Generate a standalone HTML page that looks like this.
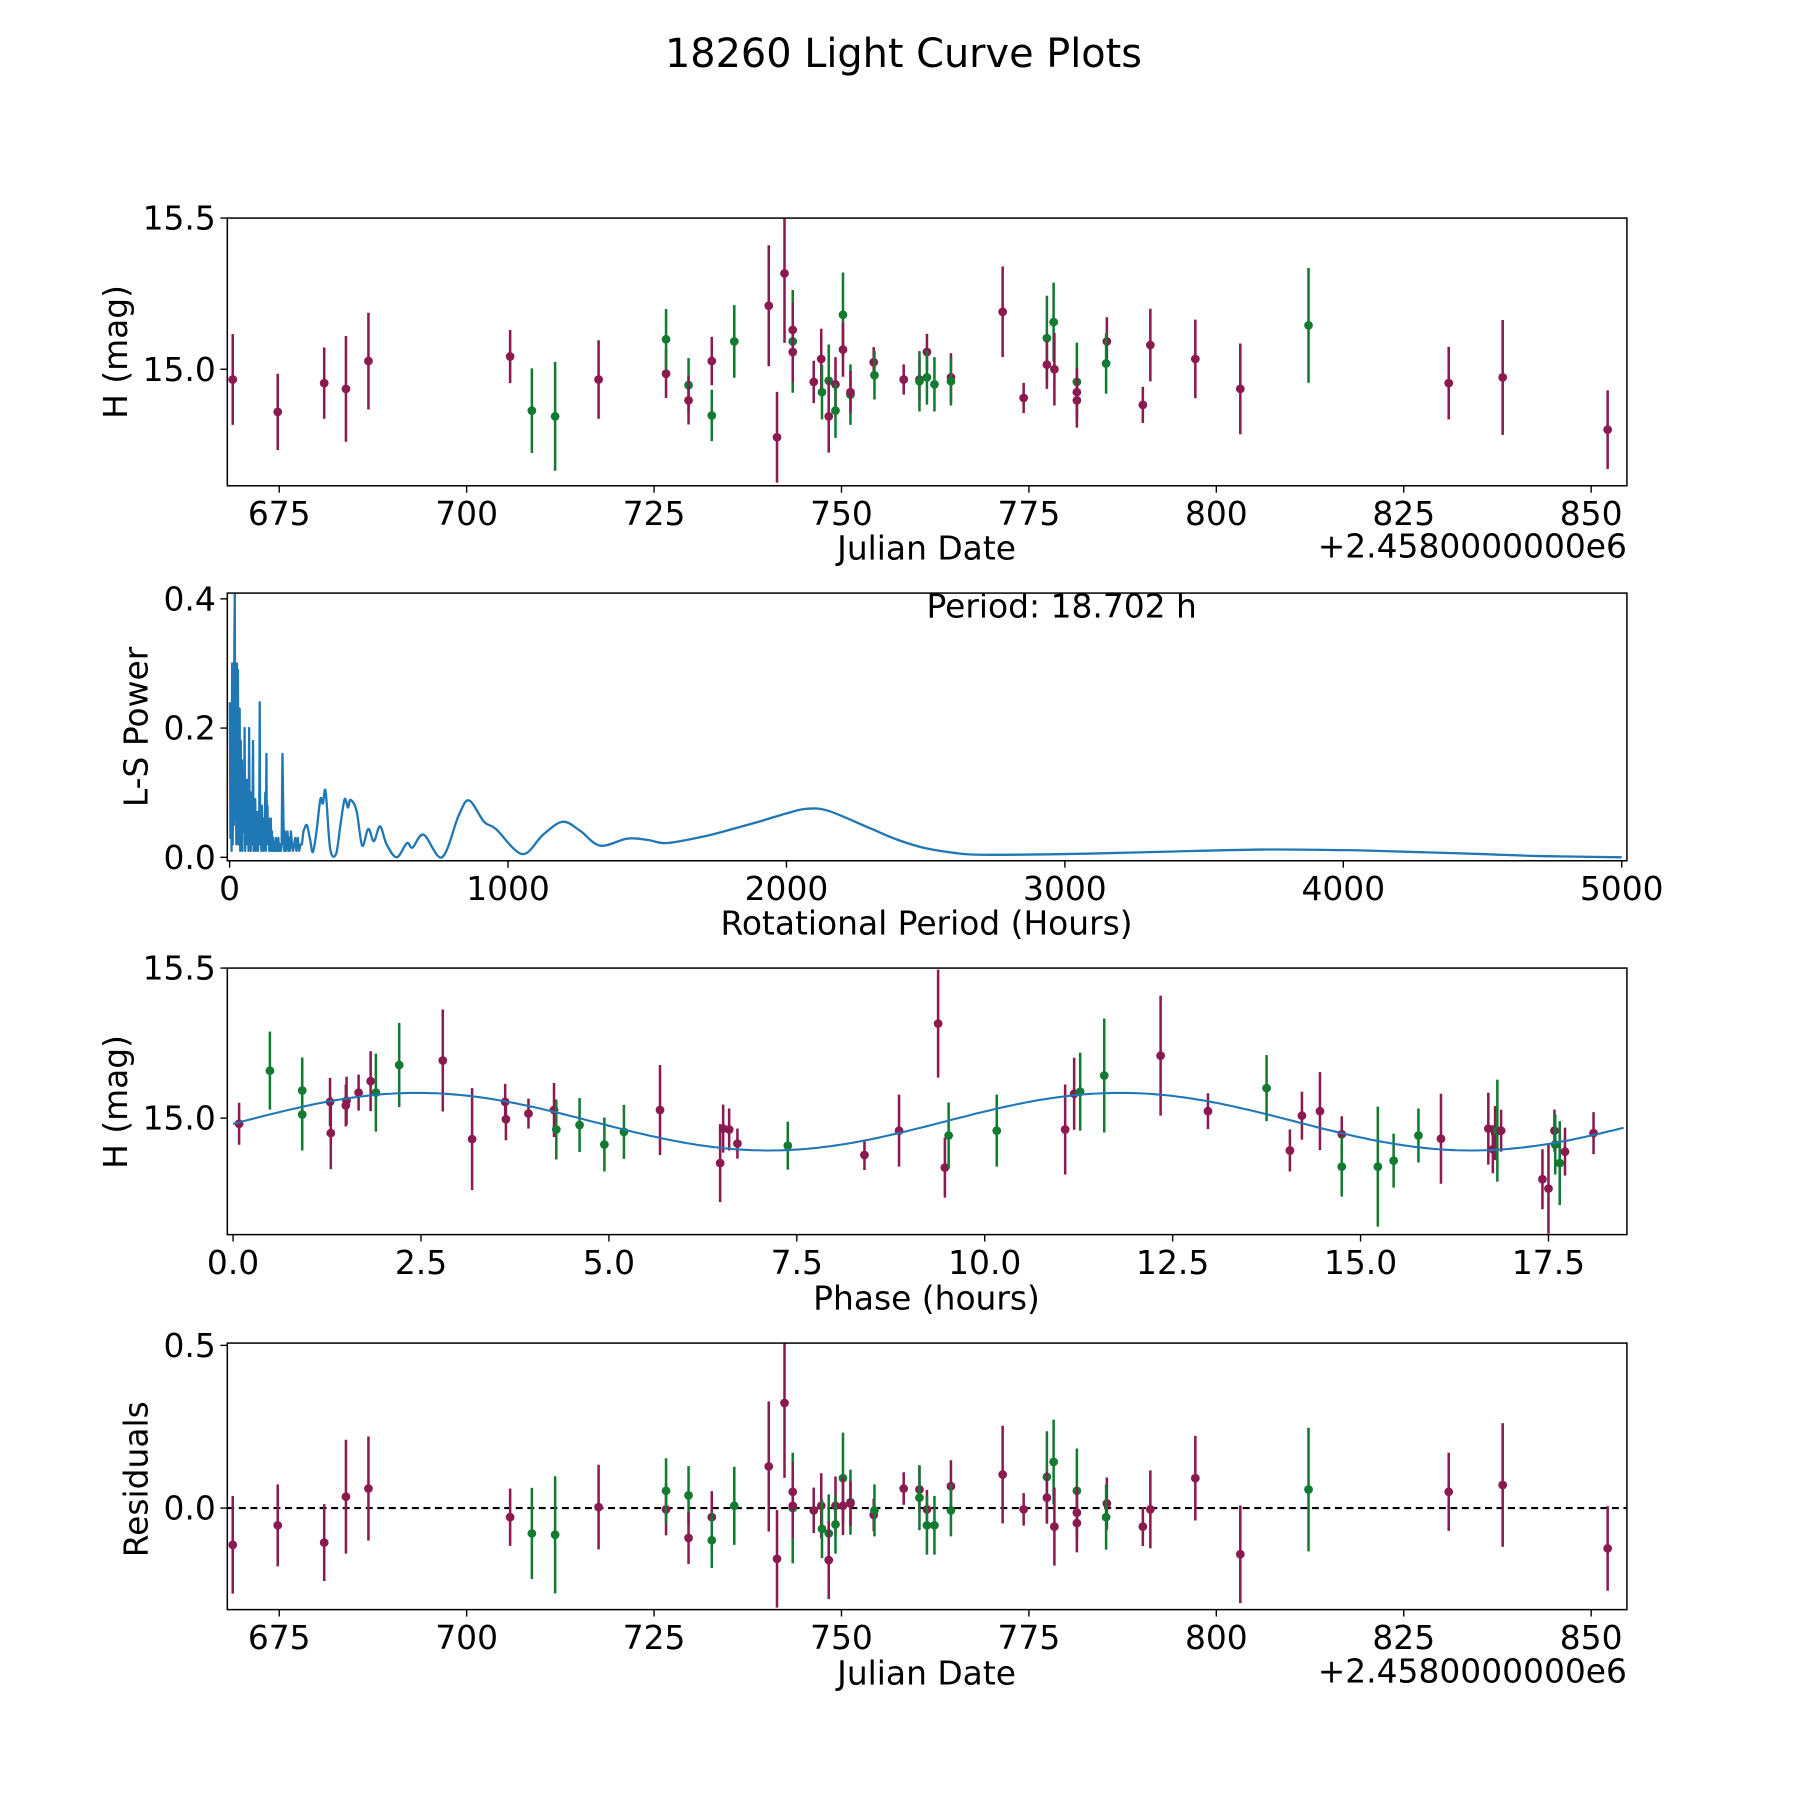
<!DOCTYPE html>
<html><head><meta charset="utf-8"><style>
html,body{margin:0;padding:0;background:#fff;}
svg{display:block;font-family:"DejaVu Sans","Liberation Sans",sans-serif;}
</style></head><body>
<svg id="fig" width="1800" height="1800" viewBox="0 0 1560 1560" xmlns="http://www.w3.org/2000/svg">
<rect width="1560" height="1560" fill="#fff"/>
<text x="783" y="58" font-size="34.5" text-anchor="middle">18260 Light Curve Plots</text>
</svg>
<script>
// ---------- Panel 1: light curve ----------
const lcDates=[668.8,674.8,681.0,683.9,686.9,705.8,708.7,711.8,717.6,726.6,726.6,729.6,729.6,732.7,732.7,735.7,740.3,741.4,742.4,743.5,743.5,743.5,746.3,747.3,747.4,748.3,748.3,749.2,749.2,750.2,750.2,751.2,751.2,754.3,754.4,758.3,760.4,760.4,761.4,761.4,762.4,764.6,764.6,771.5,774.3,777.4,777.4,778.3,778.4,781.4,781.4,781.4,785.4,785.3,790.2,791.2,797.2,803.2,812.3,831.0,838.2,852.2];
const lcMags=[14.966,14.859,14.954,14.935,15.027,15.042,14.863,14.844,14.966,14.985,15.099,14.947,14.897,15.027,14.847,15.092,15.21,14.775,15.317,15.092,15.13,15.057,14.958,15.034,14.924,14.962,14.844,14.95,14.863,15.18,15.065,14.916,14.924,15.023,14.98,14.966,14.966,14.96,15.057,14.973,14.95,14.973,14.96,15.19,14.905,15.103,15.015,15.156,15.0,14.958,14.924,14.897,15.092,15.019,14.882,15.08,15.034,14.935,15.145,14.954,14.973,14.80];
const lcErrs=[0.15,0.126,0.118,0.175,0.16,0.088,0.14,0.18,0.13,0.08,0.1,0.09,0.08,0.08,0.085,0.12,0.2,0.15,0.23,0.17,0.09,0.1,0.07,0.1,0.09,0.12,0.12,0.09,0.09,0.14,0.09,0.1,0.07,0.05,0.08,0.05,0.07,0.1,0.06,0.09,0.09,0.08,0.08,0.15,0.05,0.14,0.08,0.13,0.12,0.13,0.08,0.09,0.08,0.1,0.06,0.12,0.13,0.15,0.19,0.12,0.19,0.13];
const lcBands=['m','m','m','m','m','m','g','g','m','m','g','g','m','m','g','g','m','m','m','g','m','m','m','m','g','g','m','m','g','g','m','g','m','m','g','m','m','g','m','g','g','m','g','m','m','g','m','g','m','g','m','m','m','g','m','m','m','m','g','m','m','m'];
// ---------- Panel 2: periodogram ----------
// noisy short-period region
const lsNoisePeriods=[1,3,5,7,9,11,13,15,17,18.7,20,22,24,26,28,30,32,34,36,38,40,42,44,46,48,50,52,54,56,58,60,62,64,66,68,70,72,74,76,78,80,82,84,86,88,90,92,94,96,98,100,102,104,106,108,110,112,114,116,118,120,122,124,126,128,130,132,134,136,138,140,142,144,146,148,150,152,154,156,158,160,162,164,166,168,170,172,175,178,181,184,187,190,193,196,199,202,205,208,211,214,217,220,224,228,232,236,240,245,250,255,260,265];
const lsNoisePower=[0.24,0.03,0.22,0.01,0.3,0.02,0.2,0.05,0.33,0.41,0.06,0.25,0.02,0.3,0.04,0.29,0.02,0.12,0.23,0.01,0.18,0.03,0.15,0.01,0.12,0.04,0.09,0.2,0.01,0.11,0.03,0.12,0.02,0.06,0.01,0.2,0.03,0.08,0.01,0.1,0.02,0.07,0.18,0.01,0.08,0.03,0.09,0.01,0.06,0.02,0.07,0.01,0.04,0.03,0.24,0.02,0.06,0.01,0.08,0.02,0.05,0.01,0.06,0.02,0.1,0.01,0.16,0.02,0.08,0.03,0.06,0.01,0.05,0.02,0.06,0.01,0.04,0.01,0.03,0.02,0.01,0.02,0.01,0.03,0.01,0.02,0.01,0.03,0.01,0.02,0.01,0.02,0.16,0.06,0.01,0.04,0.01,0.02,0.04,0.01,0.03,0.01,0.04,0.02,0.01,0.02,0.03,0.01,0.03,0.01,0.02,0.02,0.04];
// smooth long-period region
const lsPeriods=[265,277,288,299,312,326,335,345,361,382,398,413,425,434,456,476,498,518,540,564,600,637,657,697,763,823,860,914,956,1051,1126,1196,1259,1331,1428,1500,1570,1700,1800,1900,2000,2070,2150,2300,2400,2500,2600,2700,3000,3300,3700,4000,4200,4500,4700,5000];
const lsPower=[0.04,0.05,0.03,0.008,0.04,0.09,0.083,0.102,0.014,0.005,0.05,0.09,0.077,0.089,0.072,0.018,0.044,0.025,0.048,0.02,0.0,0.022,0.015,0.035,0.0,0.065,0.088,0.055,0.044,0.005,0.035,0.055,0.041,0.018,0.029,0.027,0.022,0.032,0.043,0.055,0.068,0.075,0.072,0.045,0.027,0.014,0.007,0.004,0.005,0.008,0.012,0.011,0.009,0.005,0.002,0.0];
// ---------- Panel 3: phased light curve ----------
const phTimes=[0.08,0.49,0.92,0.92,1.29,1.30,1.50,1.51,1.67,1.83,1.90,2.21,2.79,3.18,3.62,3.63,3.93,4.27,4.30,4.61,4.94,5.20,5.68,6.48,6.52,6.60,6.71,7.38,8.40,8.86,9.47,9.38,9.52,10.16,11.07,11.19,11.27,11.59,12.34,12.97,13.75,14.06,14.22,14.46,14.75,14.75,15.23,15.44,15.77,16.07,16.70,16.76,16.79,16.82,16.87,17.42,17.50,17.58,17.59,17.65,17.72,18.10];
const phMags=[14.981,15.158,15.092,15.012,15.054,14.95,15.042,15.058,15.085,15.123,15.085,15.177,15.192,14.93,15.054,14.996,15.015,15.027,14.962,14.977,14.912,14.954,15.027,14.85,14.965,14.962,14.915,14.908,14.877,14.958,14.835,15.315,14.942,14.958,14.962,15.081,15.088,15.142,15.208,15.023,15.1,14.892,15.008,15.023,14.946,14.838,14.838,14.858,14.942,14.931,14.965,14.896,14.95,14.958,14.958,14.796,14.765,14.958,14.912,14.85,14.888,14.95];
const phErrs=[0.07,0.13,0.11,0.12,0.08,0.12,0.07,0.08,0.06,0.1,0.13,0.14,0.17,0.17,0.06,0.07,0.05,0.09,0.1,0.09,0.09,0.09,0.15,0.13,0.08,0.07,0.05,0.08,0.05,0.12,0.1,0.18,0.11,0.12,0.15,0.12,0.13,0.19,0.2,0.06,0.11,0.07,0.08,0.13,0.06,0.1,0.2,0.09,0.09,0.15,0.12,0.08,0.09,0.17,0.07,0.1,0.15,0.07,0.1,0.14,0.08,0.07];
const phBands=['m','g','g','g','m','m','m','m','m','m','g','g','m','m','m','m','m','m','g','g','g','g','m','m','m','m','m','g','m','m','m','m','g','g','m','m','g','g','m','m','g','m','m','m','m','g','g','g','g','m','m','m','m','g','m','m','m','m','g','g','m','m'];
const fitMean=[14.988], fitAmp=[0.096], fitPeriod=[9.351], fitPhase0=[2.45];
// ---------- Panel 4: residuals ----------
const resDates=lcDates.slice();
const resVals=[-0.113,-0.053,-0.106,0.035,0.06,-0.028,-0.078,-0.082,0.003,-0.004,0.053,0.039,-0.092,-0.028,-0.099,0.007,0.128,-0.156,0.323,0.0,0.05,0.007,-0.007,0.007,-0.064,-0.078,-0.16,0.007,-0.05,0.092,0.007,0.018,0.014,-0.021,-0.007,0.06,0.057,0.032,-0.004,-0.053,-0.053,0.067,-0.007,0.103,-0.004,0.096,0.032,0.142,-0.057,0.053,-0.014,-0.046,0.014,-0.028,-0.057,-0.004,0.092,-0.142,0.057,0.05,0.071,-0.124];
const resErrs=lcErrs.slice();
const resBands=lcBands.slice();
const jdTicks=[675,700,725,750,775,800,825,850];
const lsXTicks=[0,1000,2000,3000,4000,5000];
const lsYTicks=[0.0,0.2,0.4];
const phXTicks=[0.0,2.5,5.0,7.5,10.0,12.5,15.0,17.5];
const magTicks=[15.0,15.5];
const resTicks=[0.0,0.5];

const NS='http://www.w3.org/2000/svg';
const svg=document.getElementById('fig');
const COL={m:'#8b1a50',g:'#137a32'};
const FS=28.5;
function el(tag,attrs,parent){const e=document.createElementNS(NS,tag);for(const k in attrs)e.setAttribute(k,attrs[k]);(parent||svg).appendChild(e);return e;}
function lin(d0,d1,p0,p1){return v=>p0+(v-d0)*(p1-p0)/(d1-d0);}
function axes(name,L,T,R,B,sx,sy,xt,yt,xfmt,yfmt){
  const g=el('g',{});
  
  
  xt.forEach(v=>{const x=sx(v);
    el('line',{x1:x,x2:x,y1:B,y2:B+6,stroke:'#000','stroke-width':1.2},g);
    const lb=el('text',{x:x,y:B+34,'font-size':FS,'text-anchor':'middle'},g);lb.textContent=xfmt(v);
    
    });
  yt.forEach(v=>{const y=sy(v);
    el('line',{x1:L-6,x2:L,y1:y,y2:y,stroke:'#000','stroke-width':1.2},g);
    const lb=el('text',{x:L-10,y:y+10,'font-size':FS,'text-anchor':'end'},g);lb.textContent=yfmt(v);
    
    });
  return g;
}
function frame(L,T,R,B){el('rect',{x:L,y:T,width:R-L,height:B-T,fill:'none',stroke:'#000','stroke-width':1.3});}
function label(txt,x,y,rot,name){const a={x:x,y:y,'font-size':FS,'text-anchor':'middle'};if(rot)a.transform='rotate(-90 '+x+' '+y+')';const t=el('text',a);t.textContent=txt;
  
  }
function errPts(name,xs,ys,es,bs,sx,sy,L,T,R,B){
  const g=el('g',{});
  
  
  const clip='c'+name;const cp=el('clipPath',{id:clip},g);el('rect',{x:L,y:T,width:R-L,height:B-T},cp);
  const gg=el('g',{'clip-path':'url(#'+clip+')'},g);
  xs.forEach((d,i)=>{const c=COL[bs[i]];const x=sx(d);
    el('line',{x1:x,x2:x,y1:sy(ys[i]-es[i]),y2:sy(ys[i]+es[i]),stroke:c,'stroke-width':2.2},gg);
    const p=el('circle',{cx:x,cy:sy(ys[i]),r:3.8,fill:c},gg);
    
    });
}
const jdX=lin(675,850,242,1379);
// Panel 1
{const L=197,T=189,R=1410,B=421;const sy=lin(15.0,15.5,320,189);
 errPts('light-curve-points',lcDates,lcMags,lcErrs,lcBands,jdX,sy,L,T,R,B);
 frame(L,T,R,B);axes('light-curve-axes',L,T,R,B,jdX,sy,jdTicks,magTicks,v=>v,v=>v.toFixed(1));
 label('Julian Date',803,485,false,'x-axis-title-jd');
 const o=el('text',{x:1410,y:483,'font-size':FS,'text-anchor':'end'});o.textContent='+2.4580000000e6';
 
 
 label('H (mag)',110,305,true,'y-axis-title-mag');}
// Panel 2
{const L=197,T=514,R=1410,B=746;const sx=lin(0,1000,199,440.3);const sy=lin(0,0.2,743,631);
 const cp=el('clipPath',{id:'clipls'});el('rect',{x:L,y:T,width:R-L,height:B-T},cp);
 let d='';lsNoisePeriods.forEach((p,i)=>{d+=(i?'L':'M')+sx(p).toFixed(1)+' '+sy(lsNoisePower[i]).toFixed(1);});
 // smooth Catmull-Rom through long-period samples
 const P=lsPeriods.map((p,i)=>[sx(p),sy(lsPower[i])]);
 d+='L'+P[0][0].toFixed(1)+' '+P[0][1].toFixed(1);
 for(let i=0;i<P.length-1;i++){const p0=P[Math.max(0,i-1)],p1=P[i],p2=P[i+1],p3=P[Math.min(P.length-1,i+2)];
   const c1=[p1[0]+(p2[0]-p0[0])/6,p1[1]+(p2[1]-p0[1])/6],c2=[p2[0]-(p3[0]-p1[0])/6,p2[1]-(p3[1]-p1[1])/6];
   d+='C'+c1[0].toFixed(1)+' '+c1[1].toFixed(1)+' '+c2[0].toFixed(1)+' '+c2[1].toFixed(1)+' '+p2[0].toFixed(1)+' '+p2[1].toFixed(1);}
 const pl=el('path',{d:d,fill:'none',stroke:'#1f77b4','stroke-width':2,'stroke-linejoin':'round','clip-path':'url(#clipls)'});
 
 
 frame(L,T,R,B);axes('periodogram-axes',L,T,R,B,sx,sy,lsXTicks,lsYTicks,v=>v,v=>v.toFixed(1));
 const t=el('text',{x:803,y:535,'font-size':FS});t.textContent='Period: 18.702 h';
 
 
 label('Rotational Period (Hours)',803,810,false,'x-axis-title-period');
 label('L-S Power',128,630,true,'y-axis-title-power');}
// Panel 3
{const L=197,T=839,R=1410,B=1070;const sx=lin(0,17.5,202,1342);const sy=lin(15.0,15.5,969,839);
 errPts('phase-points',phTimes,phMags,phErrs,phBands,sx,sy,L,T,R,B);
 let d='';for(let i=0;i<=300;i++){const t=18.5*i/300;const v=fitMean[0]+fitAmp[0]*Math.cos(2*Math.PI*(t-fitPhase0[0])/fitPeriod[0]);d+=(i?'L':'M')+sx(t).toFixed(1)+' '+sy(v).toFixed(1);}
 const f=el('path',{d:d,fill:'none',stroke:'#1f77b4','stroke-width':1.8});
 
 
 frame(L,T,R,B);axes('phase-axes',L,T,R,B,sx,sy,phXTicks,magTicks,v=>v.toFixed(1),v=>v.toFixed(1));
 label('Phase (hours)',803,1135,false,'x-axis-title-phase');
 label('H (mag)',110,955,true,'y-axis-title-mag-phase');}
// Panel 4
{const L=197,T=1164,R=1410,B=1395;const sy=lin(0,0.5,1307,1166);
 const z=el('line',{x1:L,x2:R,y1:sy(0),y2:sy(0),stroke:'#000','stroke-width':1.8,'stroke-dasharray':'6 4'});
 
 
 errPts('residual-points',resDates,resVals,resErrs,resBands,jdX,sy,L,T,R,B);
 frame(L,T,R,B);axes('residual-axes',L,T,R,B,jdX,sy,jdTicks,resTicks,v=>v,v=>v.toFixed(1));
 label('Julian Date',803,1460,false,'x-axis-title-jd-res');
 const o=el('text',{x:1410,y:1458,'font-size':FS,'text-anchor':'end'});o.textContent='+2.4580000000e6';
 
 
 label('Residuals',128,1282,true,'y-axis-title-residuals');}
</script>
</body></html>
